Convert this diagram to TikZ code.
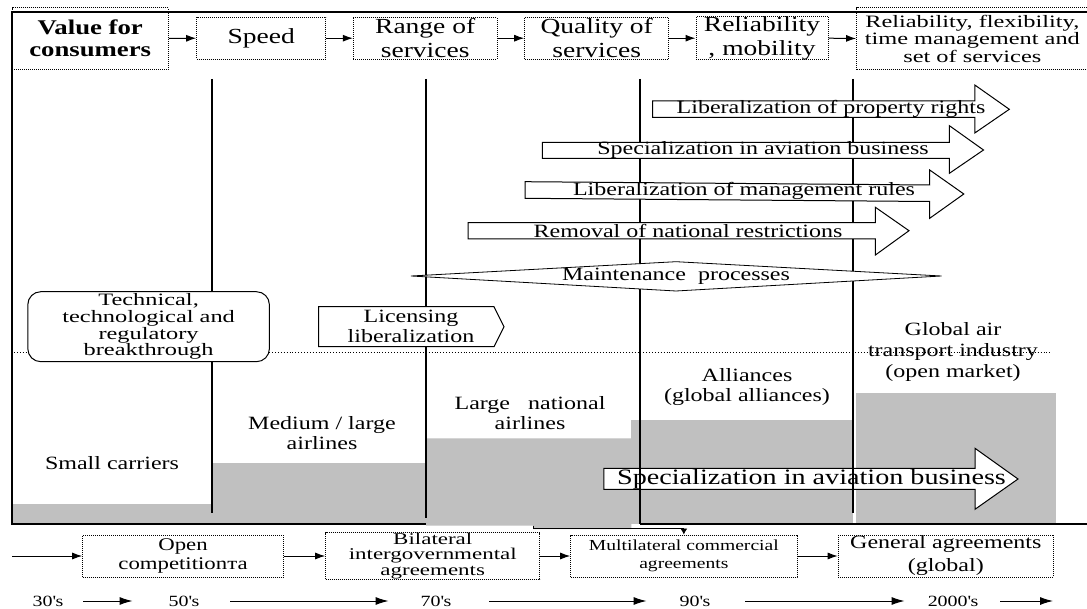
\documentclass[tikz,border=0pt]{standalone}
\usepackage{fontspec}
\setmainfont{Liberation Serif}[FakeStretch=1.28]
\newfontfamily\widefam{Liberation Serif}[FakeStretch=1.4]
\usetikzlibrary{arrows.meta}
\definecolor{stepgray}{RGB}{192,192,192}
\newcommand{\fsz}[2]{\fontsize{#1pt}{#2pt}\selectfont}
\tikzset{
  lw/.style={line width=1.2pt},
  dbox/.style={draw, densely dotted, line width=1pt, inner sep=0pt, align=center},
  conn/.style={line width=1pt, -{Latex[length=10pt,width=7pt]}},
  decarr/.style={line width=1pt, -{Latex[length=13pt,width=8pt]}},
  smallarr/.style={line width=0.8pt, -{Latex[length=6pt,width=7pt]}},
  blk/.style={draw, fill=white, line width=1pt},
  lbl/.style={inner sep=0pt, align=center},
  ftop/.style={font=\fsz{21.5}{24}},
  fval/.style={font=\bfseries\fsz{20.9}{22}},
  fflex/.style={font=\widefam\fsz{17.4}{17.5}},
  farr/.style={font=\fsz{18.75}{20}},
  fbig/.style={font=\fsz{22}{24}},
  flow/.style={font=\fsz{18.75}{20}},
  fglob/.style={font=\fsz{18.75}{21}},
  ftech/.style={font=\widefam\fsz{17.4}{16.7}},
  fopen/.style={font=\fsz{17.8}{18.6}},
  fbil/.style={font=\widefam\fsz{16.4}{15.8}},
  fmul/.style={font=\fsz{15.3}{18}},
  fgen/.style={font=\fsz{18.75}{23}},
  fdec/.style={font=\fsz{15.6}{16}},
}
\begin{document}
\begin{tikzpicture}[x=1pt,y=-1pt]
\useasboundingbox (0,0) rectangle (1087,609);
\fill[white] (0,0) rectangle (1087,609);

% gray steps
\fill[stepgray] (12,504) rectangle (212,524);
\fill[stepgray] (212,463.3) rectangle (426,524);
\fill[stepgray] (426,438.3) -- (631.4,438.3) -- (631.4,529) -- (533,529) -- (533,525.5) -- (426,525.5) -- cycle;
\fill[stepgray] (631.4,420) rectangle (853,523.5);
\fill[stepgray] (856,392.7) rectangle (1056,524);

% dotted horizontal line
\draw[dotted, line width=0.9pt] (14,352) -- (1052,352);

% bottom block arrow (under the lines)
\draw[blk] (603.8,468.3) -- (975,468.3) -- (975,448.3) -- (1018,479) -- (975,509.3) -- (975,489.3) -- (603.8,489.3) -- cycle;
\node[lbl, fbig] (tbig) at (811.5,479) {Specialization in aviation business};

% frame and vertical lines
\draw[lw] (1087,12) -- (12,12) -- (12,524) -- (426,524);
\draw[lw] (640,524) -- (1087,524);
\draw[lw] (212,79) -- (212,513);
\draw[lw] (426,79) -- (426,518);
\draw[lw] (640,79) -- (640,524);
\draw[lw] (853,79) -- (853,513);

% block arrows (over the lines)
\draw[blk] (652.7,101) -- (974.8,101) -- (974.8,85) -- (1009.3,109.3) -- (974.8,133) -- (974.8,117.3) -- (652.7,117.3) -- cycle;
\node[lbl, farr] (tprop) at (831,109) {Liberalization of property rights};
\draw[blk] (542.4,142.3) -- (949.4,142.3) -- (949.4,125.7) -- (983.5,150) -- (949.4,173.3) -- (949.4,158.3) -- (542.4,158.3) -- cycle;
\node[lbl, farr] (tspec) at (763,150) {Specialization in aviation business};
\draw[blk] (525,181.7) -- (929.7,185) -- (929.7,170) -- (963.8,194) -- (929.7,218.3) -- (929.7,201.5) -- (525,198.3) -- cycle;
\node[lbl, farr] (tmgmt) at (744,191) {Liberalization of management rules};
\draw[blk] (468,222.7) -- (875.4,222.7) -- (875.4,207.3) -- (909,230.7) -- (875.4,255) -- (875.4,239) -- (468,239) -- cycle;
\node[lbl, farr] (trem) at (688,230.7) {Removal of national restrictions};

% maintenance diamond
\draw[blk, line width=0.8pt] (411,276) -- (676,261.7) -- (941.5,276) -- (676,291) -- cycle;
\node[lbl, farr] (maint) at (676,276) {Maintenance\ \ processes};

% technical box
\node[draw, fill=white, line width=1pt, rounded corners=13pt, minimum width=241.6pt, minimum height=70pt, inner sep=0pt, align=center, ftech] (tech) at (148.6,326.7) {Technical,\\technological and\\regulatory\\breakthrough};

% licensing
\draw[blk] (318.7,306.7) -- (494,306.7) -- (504,326.7) -- (494,346.7) -- (318.7,346.7) -- cycle;
\node[lbl, flow] (lic) at (411,326.7) {Licensing\\liberalization};

% lower texts
\node[lbl, flow] (small) at (112,463) {Small carriers};
\node[lbl, flow] (medium) at (322,433.3) {Medium / large\\airlines};
\node[lbl, flow] (large) at (530,413) {Large\ \ \ national\\airlines};
\node[lbl, flow] (alli) at (747,387.3) {Alliances\\(global alliances)};
\node[lbl, fglob] (glob) at (953,352) {Global air\\transport industry\\(open market)};

% top row
\node[dbox, minimum width=156.3pt, minimum height=61.7pt, fval] (val) at (90.2,38.5) {Value for\\consumers};
\node[dbox, minimum width=129.3pt, minimum height=41.7pt, ftop] (speed) at (261.3,38.2) {Speed};
\node[dbox, minimum width=143.7pt, minimum height=41.7pt, ftop] (range) at (425.2,38.2) {Range of\\services};
\node[dbox, minimum width=144pt, minimum height=41.7pt, ftop] (qual) at (596.7,38.2) {Quality of\\services};
\node[dbox, minimum width=132pt, minimum height=41.7pt, ftop] (rel) at (762,38.2) {Reliability\\, mobility};
\node[dbox, minimum width=231.4pt, minimum height=61.7pt, fflex] (flex) at (972.3,38.5) {Reliability, flexibility,\\time management and\\set of services};
\draw[conn] (val.east) -- (speed.west);
\draw[conn] (speed.east) -- (range.west);
\draw[conn] (range.east) -- (qual.west);
\draw[conn] (qual.east) -- (rel.west);
\draw[conn] (rel.east) -- (flex.west);

% bottom row
\node[dbox, minimum width=200.6pt, minimum height=42pt, fopen] (open) at (183,556) {Open\\competitionта};
\node[dbox, minimum width=214.1pt, minimum height=42pt, fbil] (bil) at (432.75,556) {Bilateral\\intergovernmental\\agreements};
\node[dbox, minimum width=226.3pt, minimum height=42pt, fmul] (mul) at (683.85,556) {Multilateral commercial\\agreements};
\node[dbox, minimum width=215.2pt, minimum height=42pt, fgen] (gen) at (945.8,556) {General agreements\\(global)};
\coordinate (bstart) at (12,556);
\draw[conn] (bstart) -- (open.west);
\draw[conn] (open.east) -- (bil.west);
\draw[conn] (bil.east) -- (mul.west);
\draw[conn] (mul.east) -- (gen.west);
\coordinate (bk) at (533,525.5);
\draw[smallarr] (bk) |- ([yshift=6pt]mul.north) -- (mul.north);

% decades
\node[lbl, fdec] (d30) at (48,601) {30\textquotesingle s};
\node[lbl, fdec] (d50) at (184,601) {50\textquotesingle s};
\node[lbl, fdec] (d70) at (436,601) {70\textquotesingle s};
\node[lbl, fdec] (d90) at (695,601) {90\textquotesingle s};
\node[lbl, fdec] (d2000) at (953,601) {2000\textquotesingle s};
\coordinate (dend) at (1053,601);
\draw[decarr] ([xshift=20pt]d30.east) -- ([xshift=-36pt]d50.west);
\draw[decarr] ([xshift=31pt]d50.east) -- ([xshift=-32pt]d70.west);
\draw[decarr] ([xshift=38pt]d70.east) -- ([xshift=-33pt]d90.west);
\draw[decarr] ([xshift=35pt]d90.east) -- ([xshift=-23pt]d2000.west);
\draw[decarr] ([xshift=22pt]d2000.east) -- (dend);
\end{tikzpicture}
\end{document}
